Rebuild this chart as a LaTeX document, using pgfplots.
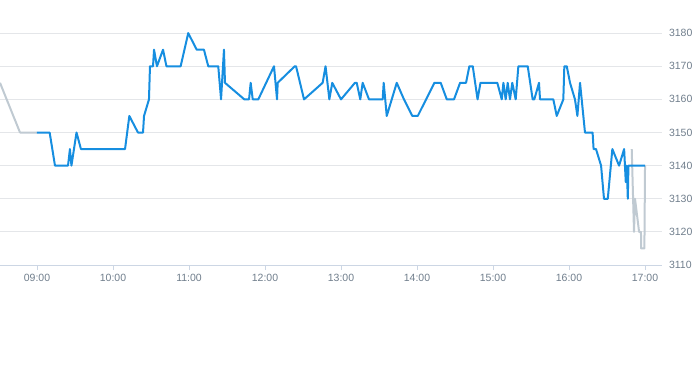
\documentclass[border=0pt]{standalone}
\usepackage{fontspec}
\setmainfont{Liberation Sans}
\usepackage{pgfplots}
\pgfplotsset{compat=1.18}
\definecolor{cblue}{RGB}{22,142,224}
\definecolor{cgray}{RGB}{192,202,210}
\definecolor{cgrid}{RGB}{228,230,233}
\definecolor{caxis}{RGB}{204,214,228}
\definecolor{clabel}{RGB}{112,126,140}
\begin{document}
\begin{tikzpicture}
\path[use as bounding box] (0pt,-100pt) rectangle (693pt,265pt);
\begin{axis}[
  at={(0pt,0pt)}, anchor=south west,
  scale only axis, width=662pt, height=265pt,
  xmin=510.8, xmax=1033.4, ymin=3110, ymax=3190,
  axis x line*=bottom, axis y line*=right,
  y axis line style={draw=none},
  x axis line style={draw=caxis, line width=1pt},
  xtick={540,600,660,720,780,840,900,960,1020},
  xticklabels={09:00,10:00,11:00,12:00,13:00,14:00,15:00,16:00,17:00},
  xtick align=outside, major tick length=5pt,
  xtick style={draw=caxis, line width=0.8pt},
  ytick={3110,3120,3130,3140,3150,3160,3170,3180},
  ytick style={draw=none},
  ymajorgrids, grid style={draw=cgrid, line width=0.8pt},
  /pgf/number format/assume math mode=true,
  /pgf/number format/1000 sep={},
  tick label style={font=\fontsize{10.5}{12}\selectfont, text=clabel},
  yticklabel style={anchor=west, xshift=3.5pt},
  xticklabel style={yshift=-1pt},
  clip=false,
]
\addplot[cgray, line width=2pt, line join=round] coordinates {
(510.8,3165) (526.6,3150) (540,3150)
};
\addplot[cgray, line width=2pt, line join=round] coordinates {
(1009.5,3145) (1011.3,3120) (1012.1,3130) (1015.3,3120) (1016.8,3120)
(1016.9,3115) (1019.5,3115) (1020,3140)
};
\addplot[cblue, line width=2pt, line join=round] coordinates {
(540,3150) (550,3150) (554.2,3140) (564.5,3140) (566,3145) (567.2,3140)
(571.2,3150) (574.7,3145) (609.5,3145) (612.9,3155) (619.7,3150) (623.7,3150)
(624.5,3155) (628.4,3160) (629.2,3170) (631.6,3170) (632.4,3175) (634.7,3170)
(639.5,3175) (642.2,3170) (653.4,3170) (659.4,3180) (666.1,3175) (671.8,3175)
(675.2,3170) (683.1,3170) (685.3,3160) (687.6,3175) (688.4,3165) (703.7,3160)
(707.4,3160) (708.7,3165) (710.3,3160) (714.7,3160) (727.1,3170) (729.5,3160)
(730,3165) (743.5,3170) (744.5,3170) (750.8,3160) (765.5,3165) (767.8,3170)
(770.8,3160) (773.1,3165) (780,3160) (791,3165) (792.4,3165) (795.2,3160)
(797.1,3165) (802.1,3160) (812.9,3160) (813.7,3165) (816.1,3155) (824,3165)
(829.7,3160) (836.3,3155) (840.6,3155) (853.7,3165) (858.7,3165) (863.5,3160)
(869.2,3160) (874,3165) (878.7,3165) (881.3,3170) (884,3170) (887.8,3160)
(890.1,3165) (903.4,3165) (906.9,3160) (908.2,3165) (910,3160) (911.6,3165)
(913.4,3160) (915.2,3165) (917.9,3160) (920,3170) (927.4,3170) (931.3,3160)
(932.6,3160) (936.3,3165) (937.1,3160) (947.6,3160) (950.3,3155) (955.5,3160)
(956.3,3170) (958.2,3170) (960.8,3165) (964.7,3160) (966.6,3155) (968.7,3165)
(972.6,3150) (978.6,3150) (979.4,3145) (981.3,3145) (985.3,3140) (987.6,3130)
(990.6,3130) (994.2,3145) (999.5,3140) (1003.5,3145) (1004.8,3135) (1005.6,3140)
(1006.4,3130) (1006.9,3140) (1020,3140)
};
\end{axis}
\end{tikzpicture}
\end{document}
